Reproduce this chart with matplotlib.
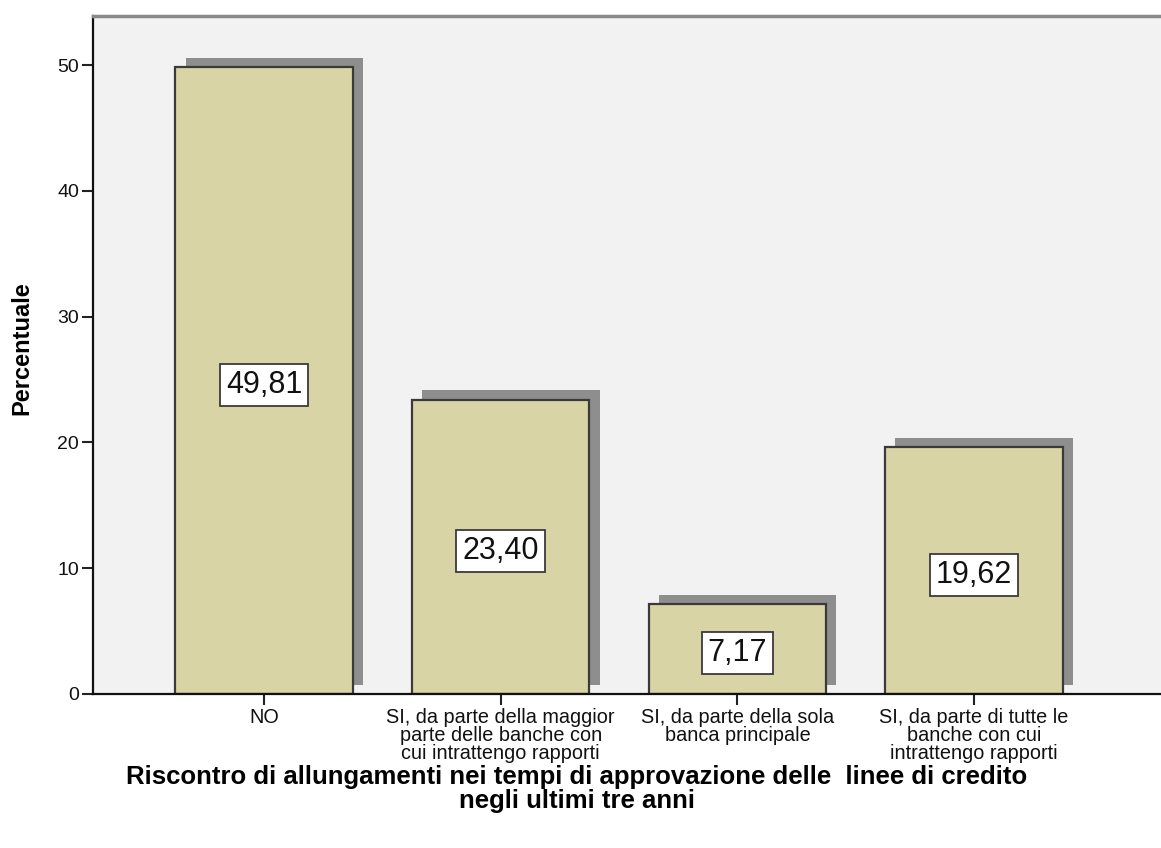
import matplotlib
matplotlib.use("Agg")
import matplotlib.pyplot as plt

plt.rcParams['font.family'] = ['Liberation Sans', 'DejaVu Sans']

categories = ["NO",
              "SI, da parte della maggior\nparte delle banche con\ncui intrattengo rapporti",
              "SI, da parte della sola\nbanca principale",
              "SI, da parte di tutte le\nbanche con cui\nintrattengo rapporti"]
values = [49.81, 23.40, 7.17, 19.62]
labels = ["49,81", "23,40", "7,17", "19,62"]
yticks = [0, 10, 20, 30, 40, 50]

W, H = 1161, 848
fig = plt.figure(figsize=(W / 100, H / 100), dpi=100)
ax = fig.add_axes([93 / W, (H - 694) / H, 1 - 93 / W, (694 - 16) / H])
ax.set_facecolor('#f2f2f2')

x = list(range(len(values)))
bw = 0.75
dx, dy = 0.043, 0.74
ax.bar([xi + dx for xi in x], values, width=bw, bottom=dy, color='#8e8e8e', edgecolor='none', zorder=1)
ax.bar(x, values, width=bw, color='#d8d4a6', edgecolor='#3a3a3a', linewidth=1.6, zorder=2)

for xi, v, lab in zip(x, values, labels):
    ax.text(xi, v / 2 - 0.35, lab, ha='center', va='center', fontsize=22, color='#111111', zorder=3,
            bbox=dict(boxstyle='square,pad=0.2', facecolor='white', edgecolor='#3a3a3a', linewidth=1.3))

ax.set_xlim(-0.723, 3.79)
ax.set_ylim(0, 53.9)
ax.set_xticks(x)
ax.set_xticklabels(categories, fontsize=14.3, linespacing=0.95, color='#111111')
ax.set_yticks(yticks)
ax.set_yticklabels([str(t) for t in yticks], fontsize=14, color='#111111')
ax.tick_params(axis='both', direction='out', length=8, width=1.5, color='#222222', pad=2)

for s in ['left', 'bottom']:
    ax.spines[s].set_linewidth(1.6)
    ax.spines[s].set_color('#111111')
ax.spines['right'].set_visible(False)
ax.spines['top'].set_linewidth(2.5)
ax.spines['top'].set_color('#8a8a8a')

ax.set_ylabel("Percentuale", fontsize=17, fontweight='bold')
ax.yaxis.set_label_coords((33 - 93) / (W - 93), (694 - 348) / (694 - 16))
fig.text(577 / W, 1 - 789 / H,
         "Riscontro di allungamenti nei tempi di approvazione delle  linee di credito\nnegli ultimi tre anni",
         ha='center', va='center', fontsize=18.5, fontweight='bold', linespacing=0.95)

fig.savefig("out.png", dpi=100)
